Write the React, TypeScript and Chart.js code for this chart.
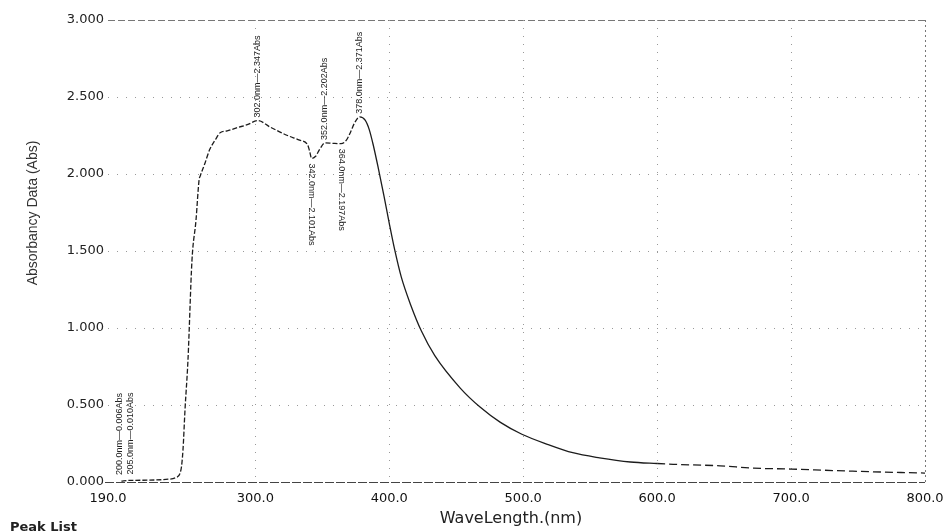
import React, { useEffect, useRef } from 'react';
import { Chart, registerables } from 'chart.js';

Chart.register(...registerables);

// ---- data ----
const wavelengths = [
  200, 205, 220, 235, 241, 244.5, 246, 247.5, 249.7, 252.7, 255.7, 258, 259, 262.4, 266, 270, 274, 279, 286, 294,
  302, 311, 324, 333, 339, 340.5, 342, 345, 348, 352, 358, 364, 368, 371, 374, 378,
  382, 385, 388, 392, 396, 400, 404, 409, 416, 424, 434, 453, 468, 483, 499, 518, 537, 557, 580,
  600, 612, 647, 672, 700, 746, 800,
];
const absorbance = [
  0.006, 0.01, 0.012, 0.018, 0.03, 0.08, 0.21, 0.47, 0.79, 1.44, 1.7, 1.96, 1.99, 2.07, 2.16, 2.22, 2.27, 2.28, 2.3, 2.32,
  2.347, 2.305, 2.25, 2.22, 2.19, 2.15, 2.101, 2.115, 2.16, 2.202, 2.199, 2.197, 2.22, 2.27, 2.33, 2.371,
  2.35, 2.29, 2.19, 2.03, 1.86, 1.68, 1.51, 1.33, 1.15, 0.98, 0.82, 0.61, 0.485, 0.387, 0.31, 0.245, 0.19, 0.157, 0.13,
  0.12, 0.115, 0.105, 0.09, 0.084, 0.07, 0.058,
];
const xTickValues = [190, 300, 400, 500, 600, 700, 800];
const yTickValues = [0, 0.5, 1, 1.5, 2, 2.5, 3];

const peakWavelengths = [200, 205, 302, 342, 352, 364, 378];
const peakValues = [0.006, 0.01, 2.347, 2.101, 2.202, 2.197, 2.371];
const peakDirections = ['up', 'up', 'up', 'down', 'up', 'down', 'up'];

const xTitle = 'WaveLength.(nm)';
const yTitle = 'Absorbancy Data (Abs)';
const footerText = 'Peak List';

const decorPlugin = {
  id: 'decor',
  beforeDatasetsDraw(chart: any) {
    const { ctx, chartArea, scales } = chart;
    const x = scales.x;
    const y = scales.y;
    ctx.save();
    yTickValues.forEach((v) => {
      const py = Math.round(y.getPixelForValue(v)) + 0.5;
      if (v === 0) {
        ctx.setLineDash([9, 2]);
        ctx.strokeStyle = '#444';
        ctx.lineWidth = 1.2;
      } else if (v === 3) {
        ctx.setLineDash([7, 3]);
        ctx.strokeStyle = '#777';
        ctx.lineWidth = 1;
      } else {
        ctx.setLineDash([1, 8]);
        ctx.strokeStyle = '#999';
        ctx.lineWidth = 1;
      }
      ctx.beginPath();
      ctx.moveTo(chartArea.left - (v === 0 ? 3 : 0), py);
      ctx.lineTo(chartArea.right, py);
      ctx.stroke();
    });
    xTickValues.forEach((v) => {
      if (v === xTickValues[0]) return;
      const px = Math.round(x.getPixelForValue(v)) + 0.5;
      if (v === 800) {
        ctx.setLineDash([2, 3]);
        ctx.strokeStyle = '#777';
      } else {
        ctx.setLineDash([1, 7]);
        ctx.strokeStyle = '#999';
      }
      ctx.lineWidth = 1;
      ctx.beginPath();
      ctx.moveTo(px, chartArea.top);
      ctx.lineTo(px, chartArea.bottom);
      ctx.stroke();
    });
    ctx.restore();
  },
  afterDatasetsDraw(chart: any) {
    const { ctx, scales } = chart;
    const x = scales.x;
    const y = scales.y;
    ctx.save();
    ctx.font = '9px "Liberation Sans", Arial, sans-serif';
    ctx.fillStyle = '#222';
    ctx.textBaseline = 'middle';
    ctx.textAlign = 'left';
    const xs = peakWavelengths.map((nm) => x.getPixelForValue(nm));
    // spread labels that would overlap
    for (let i = 1; i < xs.length; i++) {
      if (peakDirections[i] === peakDirections[i - 1] && xs[i] - xs[i - 1] < 11) {
        const mid = (xs[i] + xs[i - 1]) / 2;
        xs[i - 1] = mid - 5.5;
        xs[i] = mid + 5.5;
      }
    }
    peakWavelengths.forEach((nm, i) => {
      const val = peakValues[i];
      const up = peakDirections[i] === 'up';
      const px = xs[i];
      const py = y.getPixelForValue(val);
      const text = `${nm.toFixed(1)}nm\u2014${val.toFixed(3)}Abs`;
      ctx.save();
      ctx.translate(px, py + (up ? (val < 0.5 ? -6 : -3) : 5));
      ctx.rotate(up ? -Math.PI / 2 : Math.PI / 2);
      ctx.fillText(text, 0, 0);
      ctx.restore();
    });
    ctx.restore();
  },
  afterDraw(chart: any) {
    const { ctx } = chart;
    ctx.save();
    ctx.fillStyle = '#333';
    ctx.textAlign = 'center';
    ctx.textBaseline = 'middle';
    ctx.font = '14px "Liberation Sans", Arial, sans-serif';
    ctx.save();
    ctx.translate(33, 213);
    ctx.rotate(-Math.PI / 2);
    ctx.fillText(yTitle, 0, 0);
    ctx.restore();
    ctx.fillStyle = '#222';
    ctx.font = '16px "DejaVu Sans", sans-serif';
    ctx.fillText(xTitle, 511, 519);
    ctx.textAlign = 'left';
    ctx.textBaseline = 'alphabetic';
    ctx.font = 'bold 13px "DejaVu Sans", sans-serif';
    ctx.fillText(footerText, 10, 531);
    ctx.restore();
  },
};

export default function App() {
  const canvasRef = useRef<HTMLCanvasElement | null>(null);

  useEffect(() => {
    document.body.style.margin = '0';
    const canvas = canvasRef.current;
    if (!canvas) return;
    const points = wavelengths.map((w, i) => ({ x: w, y: absorbance[i] }));
    const chart = new Chart(canvas, {
      type: 'line',
      data: {
        datasets: [
          {
            data: points,
            borderColor: '#1c1c1c',
            borderWidth: 1.3,
            pointRadius: 0,
            fill: false,
            cubicInterpolationMode: 'monotone',
            segment: {
              borderDash: (c: any) => {
                const x0 = c.p0.parsed.x;
                if (x0 < 378) return [5, 2];
                if (x0 >= 600) return [8, 4];
                return undefined;
              },
            },
          },
        ],
      },
      options: {
        responsive: false,
        animation: false,
        layout: { autoPadding: false, padding: { left: 0, right: 20, top: 20, bottom: 0 } },
        plugins: { legend: { display: false }, tooltip: { enabled: false } },
        scales: {
          x: {
            type: 'linear',
            min: 190,
            max: 800,
            grid: { display: false, drawTicks: false },
            border: { display: false },
            afterBuildTicks: (s: any) => {
              s.ticks = xTickValues.map((v) => ({ value: v }));
            },
            afterFit: (s: any) => {
              s.height = 49;
              s.paddingLeft = 0;
              s.paddingRight = 0;
            },
            ticks: {
              padding: 9,
              maxRotation: 0,
              autoSkip: false,
              color: '#111',
              font: { family: 'DejaVu Sans', size: 13 },
              callback: (v: any) => Number(v).toFixed(1),
            },
          },
          y: {
            min: 0,
            max: 3,
            grid: { display: false, drawTicks: false },
            border: { display: false },
            afterBuildTicks: (s: any) => {
              s.ticks = yTickValues.map((v) => ({ value: v }));
            },
            afterFit: (s: any) => {
              s.width = 108;
              s.paddingTop = 0;
              s.paddingBottom = 0;
            },
            ticks: {
              padding: 4,
              color: '#222',
              font: { family: 'DejaVu Sans', size: 13 },
              callback: (v: any) => Number(v).toFixed(3),
            },
          },
        },
      },
      plugins: [decorPlugin],
    } as any);
    return () => chart.destroy();
  }, []);

  return (
    <div style={{ width: 945, height: 531, background: '#fff' }}>
      <canvas ref={canvasRef} width={945} height={531} style={{ display: 'block' }} />
    </div>
  );
}
